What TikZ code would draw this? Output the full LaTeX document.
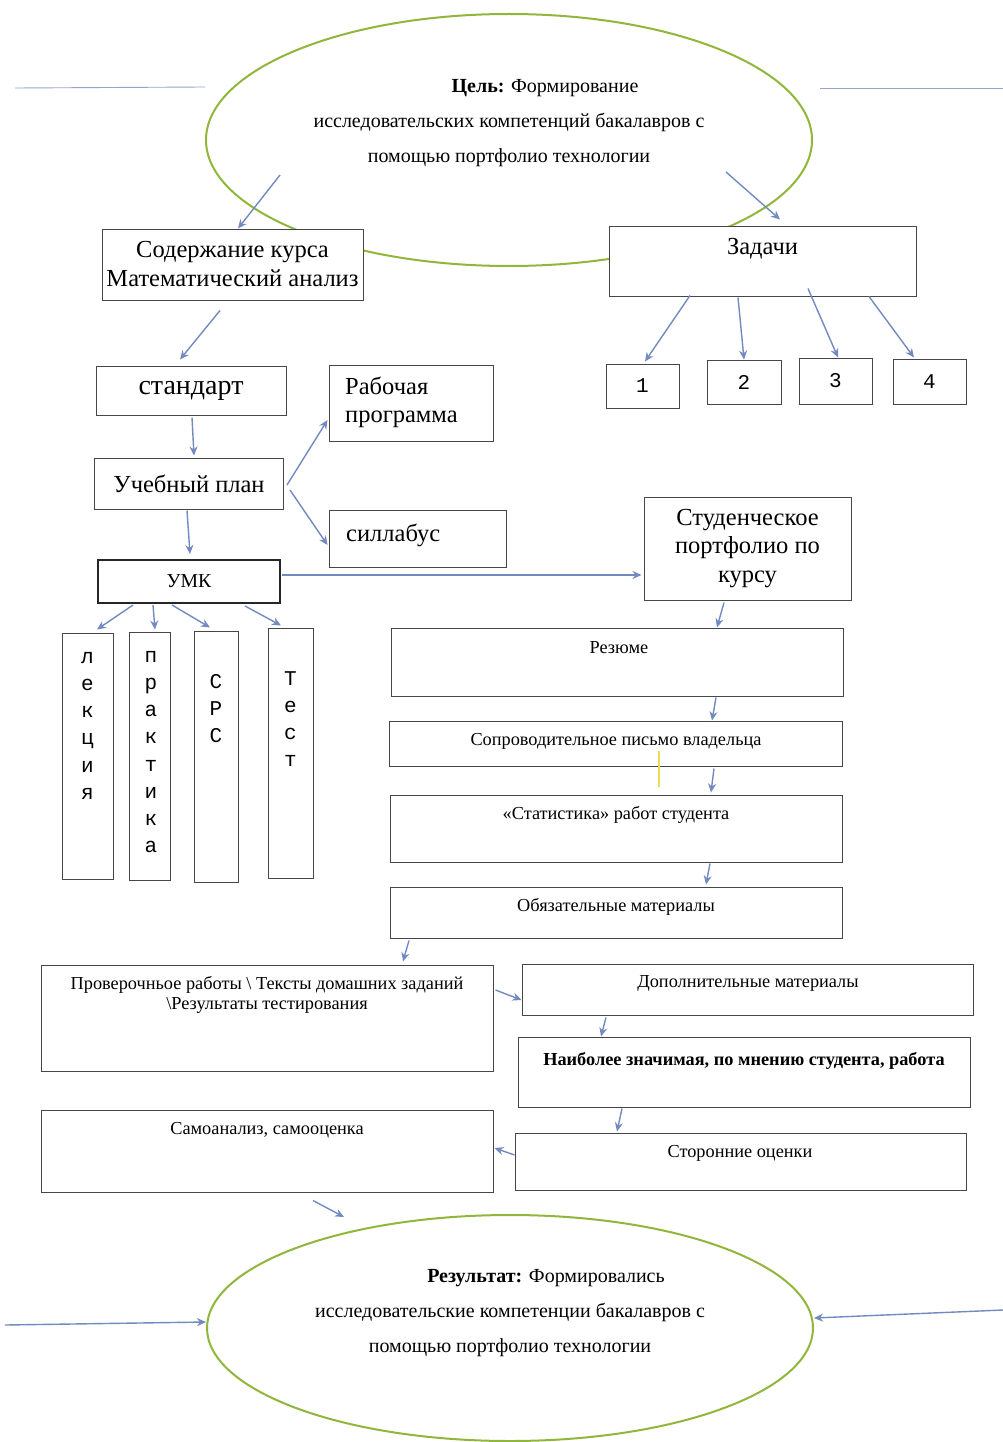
\documentclass[tikz,border=0pt]{standalone}
\usepackage{fontspec}
\setmainfont{Liberation Serif}
\newfontfamily\monof{Liberation Mono}
\usetikzlibrary{arrows.meta,shapes.geometric,calc}
\definecolor{boxc}{RGB}{70,70,70}
\definecolor{arrc}{RGB}{115,138,192}
\definecolor{ellc}{RGB}{145,182,60}
\definecolor{linec}{RGB}{150,165,205}
\definecolor{yelc}{RGB}{232,222,80}
\tikzset{
  box/.style={draw=boxc, fill=white, line width=1pt, inner sep=0pt},
  arr/.style={draw=arrc, line width=1.4pt, -{Stealth[length=9pt,width=8pt]}},
  oval/.style={ellipse, draw=ellc, line width=2pt, inner sep=0pt},
  bigf/.style={font=\fontsize{24.5}{29}\selectfont},
  smallf/.style={font=\fontsize{18.3}{20}\selectfont},
  ovalf/.style={font=\fontsize{20}{35}\selectfont, align=center},
  vertf/.style={font=\monof\fontsize{21}{27.2}\selectfont, align=center, anchor=north, inner sep=0pt},
  numf/.style={font=\monof\fontsize{21}{25}\selectfont},
}
\begin{document}
\begin{tikzpicture}[x=1pt,y=-1pt]
\useasboundingbox[fill=white] (0,0) rectangle (1003,1442);

% ovals
\node[oval, minimum width=606pt, minimum height=252pt] (ellT) at (509,140) {};
\node[oval, minimum width=606pt, minimum height=226pt] (ellB) at (510,1328) {};
\node[ovalf] (ellTT) at (509,123) {\hspace*{72pt}\textbf{Цель:} Формирование\\исследовательских компетенций бакалавров с\\помощью портфолио технологии};
\node[ovalf] (ellBT) at (510,1313) {\hspace*{72pt}\textbf{Результат:} Формировались\\исследовательские компетенции бакалавров с\\помощью портфолио технологии};

% thin top lines
\coordinate (tl1) at (15,88);
\coordinate (tl2) at (205,87);
\coordinate (tr1) at (820,88);
\coordinate (tr2) at (1003,88);
\draw[linec, line width=0.9pt] (tl1) -- (tl2);
\draw[linec, line width=0.9pt] (tr1) -- (tr2);

% boxes
\node[box, minimum width=261pt, minimum height=71pt, align=center, bigf] (sod) at (232.5,264.5) {Содержание курса\\Математический анализ};
\node[box, minimum width=307pt, minimum height=70pt] (zad) at (762.5,261) {};
\node[bigf] (zadT) at (762.5,249) {Задачи};
\node[box, minimum width=73pt, minimum height=44pt, numf] (t1) at (642.5,386) {1};
\node[box, minimum width=74pt, minimum height=44pt, numf] (t2) at (744,382) {2};
\node[box, minimum width=73pt, minimum height=46pt, numf] (t3) at (835.5,381) {3};
\node[box, minimum width=73pt, minimum height=45pt, numf] (t4) at (929.5,381.5) {4};

\node[box, minimum width=190pt, minimum height=49pt, font=\fontsize{28}{30}\selectfont] (std) at (191,390.5) {стандарт};
\node[box, minimum width=164pt, minimum height=76pt] (rab) at (411,403) {};
\node[bigf, align=left, anchor=west, inner sep=0pt, font=\fontsize{24.5}{28}\selectfont] (rabT) at (345,402) {Рабочая\\программа};
\node[box, minimum width=189pt, minimum height=51pt, bigf] (uch) at (189,483.5) {Учебный план};
\node[box, minimum width=177pt, minimum height=57pt] (sil) at (417.5,538.5) {};
\node[bigf, anchor=west, inner sep=0pt] (silT) at (346,535) {силлабус};
\node[box, draw=black!85, line width=2pt, minimum width=182pt, minimum height=43pt, font=\fontsize{19.7}{22}\selectfont] (umk) at (189,581.5) {УМК};
\node[box, minimum width=207pt, minimum height=103pt, font=\fontsize{24.5}{28.5}\selectfont, align=center] (stp) at (747.5,548.5) {Студенческое\\портфолио по\\курсу};

\node[box, minimum width=51pt, minimum height=246pt] (lek) at (87.5,756) {};
\node[vertf] (lekT) at (87.5,652) {л\\е\\к\\ц\\и\\я};
\node[box, minimum width=41pt, minimum height=248pt] (pra) at (149.5,756) {};
\node[vertf] (praT) at (151,651) {п\\р\\а\\к\\т\\и\\к\\а};
\node[box, minimum width=44pt, minimum height=251pt] (srs) at (216,756.5) {};
\node[vertf] (srsT) at (216,674) {С\\Р\\С};
\node[box, minimum width=45pt, minimum height=250pt] (tst) at (290.5,753) {};
\node[vertf] (tstT) at (290.5,671) {Т\\е\\с\\т};

\node[box, minimum width=452pt, minimum height=68pt] (rez) at (617,662) {};
\node[smallf] (rezT) at (619,648) {Резюме};
\node[box, minimum width=453pt, minimum height=45pt] (sop) at (615.5,743.5) {};
\node[smallf] (sopT) at (616,741) {Сопроводительное письмо владельца};
\node[box, minimum width=452pt, minimum height=67pt] (sta) at (616,828.5) {};
\node[smallf] (staT) at (616,815) {«Статистика» работ студента};
\node[box, minimum width=452pt, minimum height=51pt] (obz) at (616,912.5) {};
\node[smallf] (obzT) at (616,907) {Обязательные материалы};

\node[box, minimum width=452pt, minimum height=106pt] (pro) at (267,1018) {};
\node[smallf, align=center] (proT) at (267,995) {Проверочньое работы \textbackslash\ Тексты домашних заданий\\\textbackslash Результаты тестирования};
\node[box, minimum width=451pt, minimum height=51pt] (dop) at (747.5,989.5) {};
\node[smallf] (dopT) at (748,983) {Дополнительные материалы};
\node[box, minimum width=452pt, minimum height=70pt] (nai) at (744,1072) {};
\node[smallf] (naiT) at (744,1061) {\textbf{Наиболее значимая, по мнению студента, работа}};
\node[box, minimum width=452pt, minimum height=82pt] (sam) at (267,1151) {};
\node[smallf] (samT) at (267,1130) {Самоанализ, самооценка};
\node[box, minimum width=451pt, minimum height=57pt] (sto) at (740.5,1161.5) {};
\node[smallf] (stoT) at (740,1153) {Сторонние оценки};

% yellow mark
\coordinate (y1) at (659,751);
\coordinate (y2) at (659,787);
\draw[yelc, line width=1.5pt] (y1) -- (y2);

% connectors
\draw[arr] ($(ellT.center)+(-229,35)$) -- ($(sod.north)+(5.5,0)$);
\draw[arr] ($(ellT.center)+(217,32)$) -- ($(zad.north)+(17.5,-6)$);
\draw[arr] ($(sod.south)+(-12.5,10)$) -- ($(std.north)+(-11,-6)$);
\draw[arr] ($(zad.south)+(-72.5,-1)$) -- ($(t1.north)+(2.5,-2)$);
\draw[arr] ($(zad.south)+(-24.5,1)$) -- ($(t2.north)+(0,0)$);
\draw[arr] ($(zad.south)+(45.5,-8)$) -- ($(t3.north)+(2.5,0)$);
\draw[arr] ($(zad.south)+(106.5,0)$) -- ($(t4.north)+(-15.5,-1)$);
\draw[arr] ($(std.south)+(1,2)$) -- ($(uch.north)+(5,-2)$);
\draw[arr] ($(uch.east)+(3,1.5)$) -- ($(rab.west)+(-1,17)$);
\draw[arr] ($(uch.east)+(6,6.5)$) -- ($(sil.west)+(-1,6.5)$);
\draw[arr] ($(uch.south)+(-2,1)$) -- ($(umk.north)+(1,-5)$);
\draw[arr] ($(umk.east)+(1,-6.5)$) -- ($(stp.west)+(-2,26.5)$);
\draw[arr] ($(umk.south)+(-56,1)$) -- ($(lek.north)+(9.5,-3)$);
\draw[arr] ($(umk.south)+(-36,1)$) -- ($(pra.north)+(5.5,-2)$);
\draw[arr] ($(umk.south)+(-17,1)$) -- ($(srs.north)+(-6,-3)$);
\draw[arr] ($(umk.south)+(56,2)$) -- ($(tst.north)+(-9.5,-2)$);
\draw[arr] ($(stp.south)+(-23.5,2)$) -- ($(rez.north)+(100,0)$);
\draw[arr] ($(rez.south)+(99,1)$) -- ($(sop.north)+(96.5,0)$);
\draw[arr] ($(sop.south)+(98.5,2)$) -- ($(sta.north)+(95,-2)$);
\draw[arr] ($(sta.south)+(94,1)$) -- ($(obz.north)+(90,-2)$);
\draw[arr] ($(obz.south)+(-207,2)$) -- ($(pro.north)+(136,-3)$);
\draw[arr] ($(pro.east)+(2,-28)$) -- ($(dop.west)+(0,10.5)$);
\draw[arr] ($(dop.south)+(-141.5,2)$) -- ($(nai.north)+(-143,0)$);
\draw[arr] ($(nai.south)+(-122,1)$) -- ($(sto.north)+(-123.5,-1)$);
\draw[arr] ($(sto.west)+(0,-6.5)$) -- ($(sam.east)+(1,-3)$);
\draw[arr] ($(sam.south)+(46,8)$) -- ($(ellB.center)+(-166,-111)$);
\coordinate (bl) at (5,1325);
\coordinate (br) at (1003,1310);
\draw[arr] (bl) -- ($(ellB.west)+(0,-6)$);
\draw[arr] (br) -- ($(ellB.east)+(0,-10)$);
\end{tikzpicture}
\end{document}
